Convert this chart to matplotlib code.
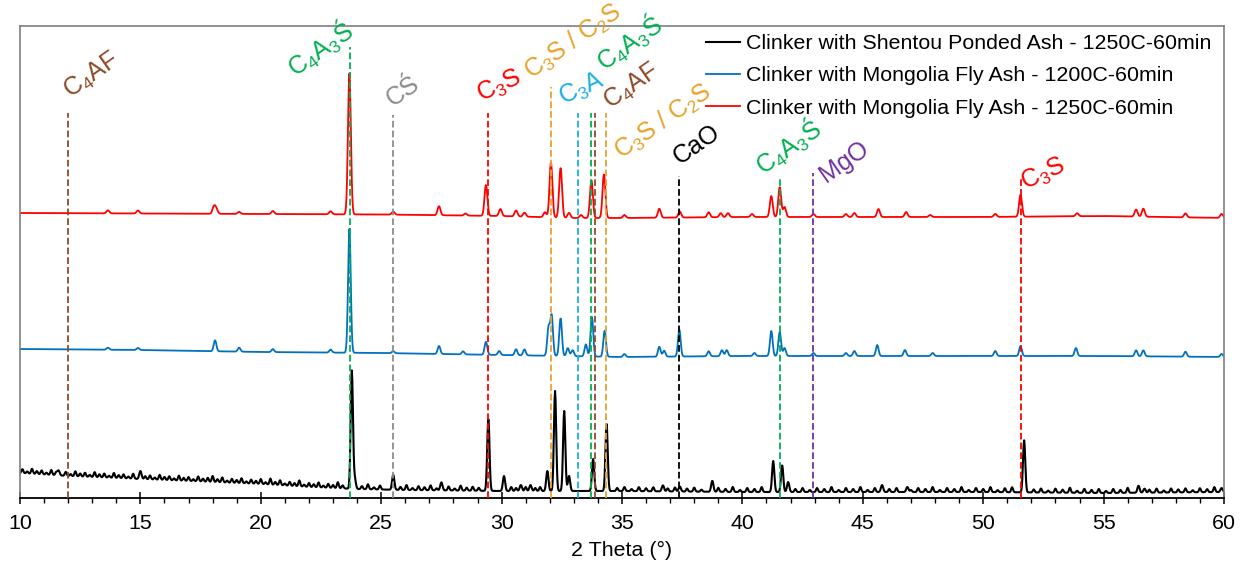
import numpy as np
import matplotlib
matplotlib.use('Agg')
import matplotlib.pyplot as plt
from matplotlib.ticker import MultipleLocator

# ---------------- data (arbitrary intensity units) ----------------
x_range = [10, 60]

# Clinker with Mongolia Fly Ash - 1250C-60min (red, top)
red_base_x = [10, 15, 20, 25, 30, 33, 35, 40, 45, 50, 55, 60]
red_base_y = [285, 284.5, 284, 283.5, 282, 280, 280, 281, 281, 281, 282, 280]
red_pk_pos = [13.65, 14.9, 18.05, 18.15, 19.1, 20.5, 22.9, 23.68, 25.5, 27.4, 28.5, 29.35, 29.95,
              30.6, 30.95, 31.8, 32.05, 32.45, 32.8, 33.3, 33.73, 34.25, 35.1, 36.55, 37.4, 38.6,
              39.1, 39.4, 40.4, 41.2, 41.55, 41.75, 42.95, 44.3, 44.65, 45.65, 46.8, 47.8, 50.5,
              51.55, 53.9, 56.35, 56.65, 58.4, 59.9]
red_pk_h = [3, 3, 7, 5, 2, 3, 3, 141, 3, 9, 2, 31, 7,
            6, 4, 5, 55, 50, 5, 3, 38, 44, 3, 9, 6, 5,
            4, 4, 3, 21, 30, 10, 3, 3, 4, 8, 5, 2, 3,
            22, 3, 7, 8, 4, 4]

# Clinker with Mongolia Fly Ash - 1200C-60min (blue, middle)
blue_base_x = [10, 15, 20, 25, 30, 35, 40, 45, 50, 55, 60]
blue_base_y = [149, 148, 146, 145, 143, 141, 142, 142, 142, 142, 141]
blue_pk_pos = [13.65, 14.9, 18.1, 19.1, 20.5, 22.9, 23.68, 25.5, 27.4, 28.4, 29.35, 29.9,
               30.6, 30.95, 31.95, 32.08, 32.45, 32.75, 32.95, 33.5, 33.75, 34.28, 35.1, 36.55,
               36.75, 37.38, 38.6, 39.15, 39.35, 40.5, 41.2, 41.55, 41.75, 42.95, 44.3, 44.65,
               45.6, 46.75, 47.9, 50.5, 51.55, 53.85, 56.35, 56.65, 58.4, 59.9]
blue_pk_h = [2, 2, 11, 4, 3, 3, 124, 2, 8, 3, 13, 4,
             6, 6, 28, 40, 38, 8, 6, 12, 40, 26, 3, 10,
             6, 27, 5, 6, 6, 3, 25, 24, 8, 3, 3, 5,
             11, 6, 3, 5, 10, 8, 6, 6, 5, 3]

# Clinker with Shentou Ponded Ash - 1250C-60min (black, bottom)
black_base_x = [10, 12, 15, 18, 20, 22, 24, 26, 30, 35, 40, 45, 50, 55, 60]
black_base_y = [25, 22, 19, 16, 14, 11, 9, 8, 7, 7, 6, 6, 6, 5, 6]
black_pk_pos = [11.6, 15.0, 23.78, 23.9, 25.5, 27.5, 29.45, 30.1, 30.8, 31.2, 31.9, 32.22, 32.6,
                32.8, 33.8, 34.36, 36.7, 37.4, 38.75, 41.28, 41.65, 41.9, 45.8, 46.85, 51.7,
                56.45, 56.7, 59.9]
black_pk_h = [5, 8, 118, 10, 15, 8, 73, 15, 6, 6, 20, 100, 80,
              15, 32, 67, 6, 5, 11, 31, 27, 10, 7, 5, 52,
              7, 4, 4]
# small jagged features of the noisy black pattern: (2-theta, height)
black_noise = [(10.1, 4), (10.3, 2), (10.5, 5), (10.7, 3), (10.9, 4), (11.1, 2), (11.3, 5), (11.5, 3),
               (11.9, 4), (12.1, 2), (12.3, 5), (12.5, 3), (12.7, 4), (12.9, 2), (13.1, 5), (13.3, 3),
               (13.5, 4), (13.7, 2), (13.9, 5), (14.1, 3), (14.3, 4), (14.5, 2), (14.7, 5), (15.2, 3),
               (15.4, 4), (15.6, 2), (15.8, 5), (16.0, 3), (16.2, 4), (16.4, 2), (16.6, 5), (16.8, 3),
               (17.0, 4), (17.2, 2), (17.4, 5), (17.6, 3), (17.8, 4), (18.0, 6), (18.2, 3), (18.4, 5),
               (18.6, 2), (18.8, 4), (19.0, 3), (19.2, 5), (19.4, 2), (19.6, 4), (19.8, 3), (20.0, 5),
               (20.2, 2), (20.4, 6), (20.6, 3), (20.8, 5), (21.0, 2), (21.2, 4), (21.4, 3), (21.6, 6),
               (21.8, 2), (22.0, 4), (22.2, 3), (22.4, 5), (22.6, 2), (22.8, 4), (23.0, 3), (23.2, 6),
               (23.4, 3), (24.2, 3), (24.45, 5), (24.7, 2), (24.95, 4), (25.8, 3), (26.05, 5),
               (26.3, 2), (26.55, 4), (26.8, 3), (27.05, 5), (27.3, 2), (27.8, 4), (28.05, 2),
               (28.3, 5), (28.55, 3), (28.8, 4), (29.05, 3), (30.4, 4), (30.6, 3), (31.0, 4),
               (31.4, 3), (31.6, 4), (34.8, 3), (35.1, 4), (35.4, 2), (35.7, 4), (36.0, 3),
               (36.3, 4), (36.9, 3), (37.2, 4), (37.7, 3), (38.0, 4), (38.3, 2), (39.0, 4),
               (39.3, 3), (39.6, 5), (39.9, 2), (40.2, 4), (40.5, 3), (40.8, 5), (42.2, 3),
               (42.5, 4), (42.8, 2), (43.1, 4), (43.4, 3), (43.7, 5), (44.0, 2), (44.3, 4),
               (44.6, 3), (44.9, 5), (45.2, 2), (45.5, 4), (46.1, 3), (46.4, 4), (47.0, 2),
               (47.3, 4), (47.6, 3), (47.9, 5), (48.2, 2), (48.5, 4), (48.8, 3), (49.1, 5),
               (49.4, 2), (49.7, 4), (50.0, 3), (50.3, 5), (50.6, 2), (50.9, 4), (51.2, 5),
               (52.1, 3), (52.4, 4), (52.7, 2), (53.0, 4), (53.3, 3), (53.6, 5), (53.9, 2),
               (54.2, 4), (54.5, 3), (54.8, 4), (55.1, 2), (55.4, 4), (55.7, 3), (56.0, 5),
               (56.9, 3), (57.2, 4), (57.5, 2), (57.8, 4), (58.1, 3), (58.4, 4), (58.7, 2),
               (59.0, 4), (59.3, 3), (59.6, 5)]

series_labels = ["Clinker with Shentou Ponded Ash - 1250C-60min",
                 "Clinker with Mongolia Fly Ash - 1200C-60min",
                 "Clinker with Mongolia Fly Ash - 1250C-60min"]

# phase reference lines: 2-theta positions, labels
phase_pos = [12.0, 23.7, 25.47, 29.43, 32.05, 33.17, 33.73, 33.86, 34.32, 37.38, 41.56, 42.95, 51.57]
phase_lbl = ['C$_4$AF', 'C$_4$A$_3$Ś', 'CŚ', 'C$_3$S', 'C$_3$S / C$_2$S', 'C$_3$A', 'C$_4$A$_3$Ś',
             'C$_4$AF', 'C$_3$S / C$_2$S', 'CaO', 'C$_4$A$_3$Ś', 'MgO', 'C$_3$S']

# ---------------- styles / layout ----------------
BROWN, GREEN, GRAY, RED, ORANGE = '#8E4A26', '#00B050', '#8C8C8C', '#FF0000', '#E8A22A'
CYAN, BLACK, PURPLE = '#1AAEE8', '#000000', '#7030A0'
phase_col = [BROWN, GREEN, GRAY, RED, ORANGE, CYAN, GREEN, BROWN, ORANGE, BLACK, GREEN, PURPLE, RED]
line_top = [385, 451, 383, 385, 411, 385, 385, 385, 385, 322, 321, 325, 320]
# label anchor (x data, y units) and rotation
lbl_xy = [(12.08, 399), (21.42, 420), (25.49, 391), (29.14, 396), (31.22, 418), (32.55, 393),
          (34.29, 426), (34.54, 388), (34.96, 338), (37.41, 333), (40.86, 322), (43.47, 315),
          (51.75, 308)]
lbl_rot = [35, 35, 35, 25, 35, 25, 35, 35, 35, 35, 35, 35, 25]

plt.rcParams['font.family'] = ['Liberation Sans', 'DejaVu Sans']
plt.rcParams['mathtext.fontset'] = 'custom'
plt.rcParams['mathtext.rm'] = 'Liberation Sans'
plt.rcParams['mathtext.it'] = 'Liberation Sans:italic'
plt.rcParams['mathtext.bf'] = 'Liberation Sans:bold'

x = np.arange(10, 60.0001, 0.02)


def pattern(bx, by, pos, h, w):
    y = np.interp(x, bx, by)
    s = w / 2.355
    for p, hh in zip(pos, h):
        y = y + hh * np.exp(-0.5 * ((x - p) / s) ** 2)
    return y


y_red = pattern(red_base_x, red_base_y, red_pk_pos, red_pk_h, 0.14)
y_blue = pattern(blue_base_x, blue_base_y, blue_pk_pos, blue_pk_h, 0.13)
y_black = pattern(black_base_x, black_base_y, black_pk_pos, black_pk_h, 0.11)
y_black = y_black + pattern([10, 60], [0, 0], [p for p, _ in black_noise],
                            [h for _, h in black_noise], 0.09)

fig = plt.figure(figsize=(12.47, 5.65), dpi=100)
ax = fig.add_axes([20 / 1247, 67 / 565, 1204 / 1247, 472 / 565])

lw = 1.3
ax.plot(x, y_black, color='black', lw=1.5, label=series_labels[0], zorder=2)
ax.plot(x, y_blue, color='#0070C0', lw=lw, label=series_labels[1], zorder=2)
ax.plot(x, y_red, color='#FF0000', lw=lw, label=series_labels[2], zorder=2)

for p, c, t in zip(phase_pos, phase_col, line_top):
    ax.plot([p, p], [0, t], color=c, lw=1.3, ls=(0, (3.7, 1.7)), zorder=3)

for (lx, ly), s, c, r in zip(lbl_xy, phase_lbl, phase_col, lbl_rot):
    ax.text(lx, ly, s, color=c, fontsize=18, rotation=r, rotation_mode='anchor',
            ha='left', va='baseline', zorder=4)

ax.set_xlim(x_range)
ax.set_ylim(0, 472)
ax.set_yticks([])
ax.xaxis.set_major_locator(MultipleLocator(5))
ax.xaxis.set_minor_locator(MultipleLocator(1))
ax.tick_params(axis='x', which='major', direction='inout', length=9, width=1.1,
               labelsize=15.4, pad=7)
ax.tick_params(axis='x', which='minor', direction='out', length=3.5, width=1.0)
ax.set_xlabel('2 Theta (°)', fontsize=15.4, labelpad=6)

for sp in ['left', 'top', 'right']:
    ax.spines[sp].set_color('#7F7F7F')
    ax.spines[sp].set_linewidth(1.2)
ax.spines['bottom'].set_color('black')
ax.spines['bottom'].set_linewidth(1.3)

ax.legend(loc='upper left', bbox_to_anchor=((706 - 20) / 1204, (498 - 34) / 472),
          frameon=False, fontsize=15.4, handlelength=1.6, handletextpad=0.25,
          labelspacing=0.63, borderaxespad=0, borderpad=0)

fig.savefig('out.png', dpi=100)
